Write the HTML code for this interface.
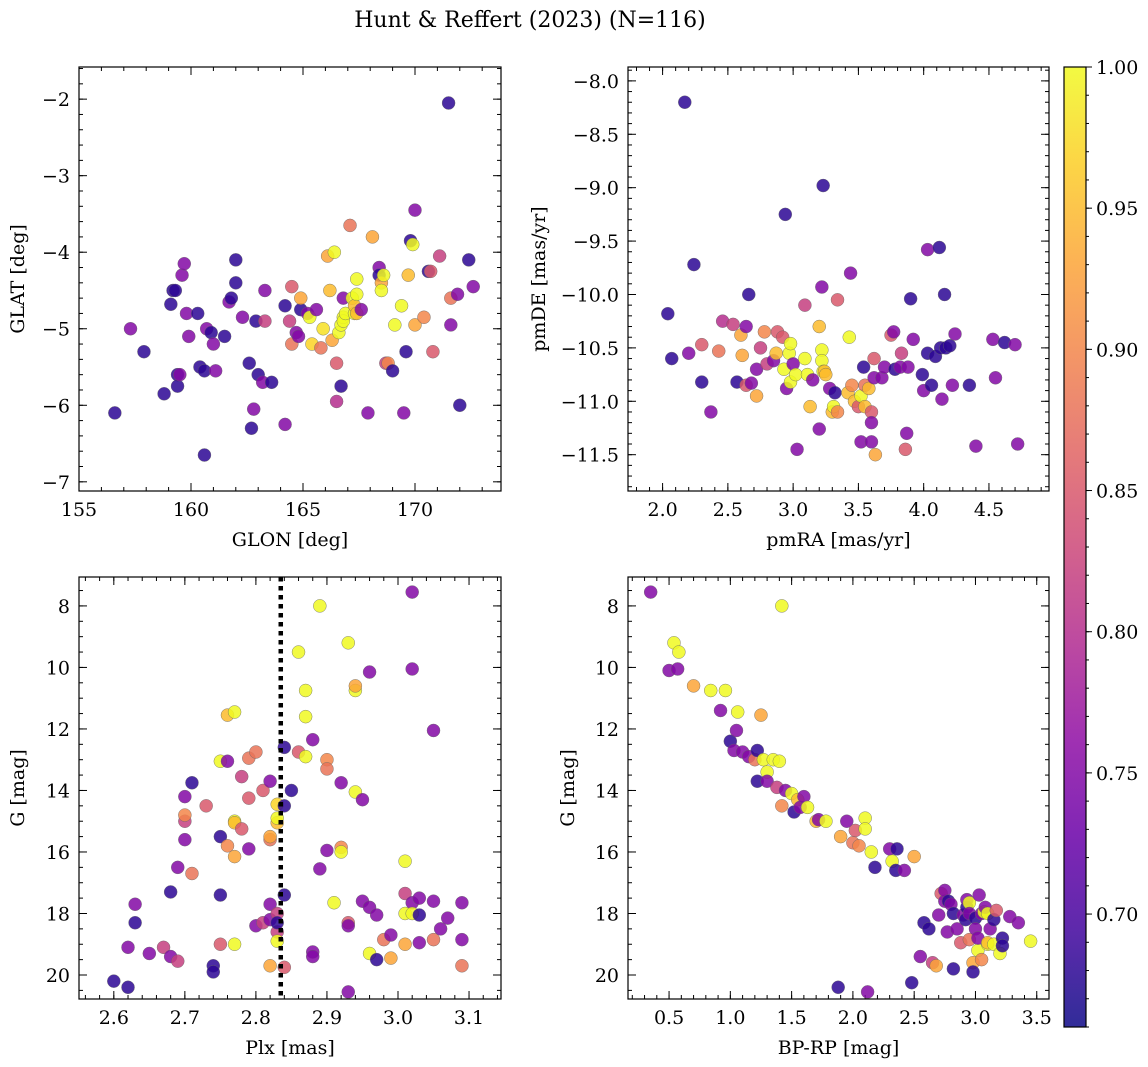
<!DOCTYPE html>
<html><head><meta charset="utf-8"><style>
html,body{margin:0;padding:0;background:#fff;}
svg{display:block;font-family:"DejaVu Serif","Liberation Serif",serif;}
</style></head><body>
<svg id="fig" width="1148" height="1067" xmlns="http://www.w3.org/2000/svg">
<defs>
<linearGradient id="plasma" x1="0" y1="1" x2="0" y2="0">
<stop offset="0" stop-color="#0d0887"/><stop offset="0.1" stop-color="#41049d"/><stop offset="0.2" stop-color="#6a00a8"/><stop offset="0.3" stop-color="#8f0da4"/><stop offset="0.4" stop-color="#b12a90"/><stop offset="0.5" stop-color="#cc4778"/><stop offset="0.6" stop-color="#e16462"/><stop offset="0.7" stop-color="#f2844b"/><stop offset="0.8" stop-color="#fca636"/><stop offset="0.9" stop-color="#fcce25"/><stop offset="1" stop-color="#f0f921"/>
</linearGradient>
</defs>
<text x="530" y="27" text-anchor="middle" font-size="22">Hunt &amp; Reffert (2023) (N=116)</text>
</svg>
<script>
const glon=[171.5,156.6,157.3,157.9,158.8,159.1,159.2,159.3,159.4,159.4,159.5,159.6,159.7,159.8,159.9,160.3,160.4,160.6,160.6,160.7,160.9,161.0,161.1,161.5,161.7,161.8,162.0,162.0,162.3,162.6,162.7,162.8,162.9,163.0,163.2,163.3,163.3,163.6,164.2,164.2,164.4,164.5,164.5,164.7,164.8,164.9,164.9,165.2,165.3,165.4,165.6,165.8,165.9,166.1,166.2,166.3,166.4,166.5,166.5,166.6,166.7,166.8,166.8,166.7,166.8,166.9,167.1,167.2,167.3,167.3,167.4,167.4,167.4,167.6,167.9,168.1,168.4,168.4,168.5,168.5,168.6,168.7,168.8,169.0,169.1,169.4,169.5,169.6,169.7,169.8,169.9,170.0,170.0,170.4,170.6,170.7,170.8,171.1,171.6,171.6,171.9,172.0,172.4,172.6];
const glat=[-2.05,-6.1,-5.0,-5.3,-5.85,-4.68,-4.5,-4.5,-5.6,-5.75,-5.6,-4.3,-4.15,-4.8,-5.1,-4.8,-5.5,-5.55,-6.65,-5.0,-5.05,-5.2,-5.55,-5.1,-4.65,-4.6,-4.4,-4.1,-4.85,-5.45,-6.3,-6.05,-4.9,-5.6,-5.7,-4.5,-4.9,-5.7,-6.25,-4.7,-4.9,-4.45,-5.2,-5.05,-5.1,-4.75,-4.6,-4.8,-4.85,-5.2,-4.75,-5.25,-5.0,-4.05,-4.5,-5.15,-4.0,-5.45,-5.95,-5.05,-4.95,-4.6,-4.85,-5.75,-4.9,-4.8,-3.65,-4.6,-4.8,-4.7,-4.35,-4.55,-4.8,-4.75,-6.1,-3.8,-4.2,-4.3,-4.4,-4.5,-4.3,-5.45,-5.45,-5.55,-4.95,-4.7,-6.1,-5.3,-4.3,-3.85,-3.9,-3.45,-4.95,-4.85,-4.25,-4.25,-5.3,-4.05,-4.6,-4.95,-4.55,-6.0,-4.1,-4.45];
const probA=[.68,.68,.75,.68,.68,.68,.68,.68,.68,.68,.75,.75,.75,.75,.75,.68,.68,.68,.68,.75,.68,.75,.75,.68,.75,.68,.68,.68,.75,.68,.68,.75,.68,.68,.75,.75,.82,.68,.75,.68,.82,.85,.88,.75,.75,.68,.93,.75,1,.97,.75,.88,.98,.93,.95,.93,1,.85,.8,1,1,.75,1,.68,1,1,.88,1,1,.95,1,1,.95,.75,.75,.93,.75,.68,.93,1,1,.82,.9,.68,1,1,.75,.68,.95,.68,1,.75,.93,.9,.68,.85,.85,.82,.88,.75,.75,.68,.68,.75];

const pmra=[2.17,2.04,2.07,2.24,2.3,2.37,2.46,2.2,2.3,2.43,2.54,2.57,2.6,2.61,2.64,2.64,2.66,2.68,2.72,2.72,2.75,2.78,2.8,2.85,2.87,2.88,2.92,2.93,2.95,2.97,2.98,2.98,3.0,3.02,3.03,2.94,3.09,3.09,3.11,3.13,3.15,3.2,3.2,3.22,3.22,3.22,3.23,3.23,3.24,3.25,3.28,3.3,3.31,3.32,3.34,3.34,3.42,3.43,3.44,3.45,3.47,3.5,3.52,3.52,3.54,3.55,3.55,3.58,3.6,3.6,3.6,3.62,3.63,3.62,3.68,3.7,3.75,3.77,3.78,3.82,3.83,3.86,3.87,3.88,3.9,3.92,3.99,4.0,4.03,4.06,4.03,4.09,4.12,4.13,4.14,4.16,4.17,4.2,4.22,4.24,4.35,4.4,4.53,4.55,4.62,4.7,4.72];
const pmde=[-8.2,-10.18,-10.6,-9.72,-10.82,-11.1,-10.25,-10.55,-10.47,-10.53,-10.28,-10.82,-10.38,-10.57,-10.3,-10.85,-10.0,-10.83,-10.95,-10.7,-10.5,-10.35,-10.65,-10.62,-10.55,-10.35,-10.4,-10.7,-10.88,-10.55,-10.82,-10.46,-10.65,-10.75,-11.45,-9.25,-10.1,-10.6,-10.75,-11.05,-10.8,-11.26,-10.3,-9.93,-10.52,-10.62,-10.72,-8.98,-10.72,-10.75,-10.88,-11.1,-11.05,-10.92,-11.1,-10.05,-10.92,-10.4,-9.8,-10.85,-11.0,-11.05,-10.95,-11.38,-10.68,-10.85,-11.05,-10.88,-11.1,-11.38,-11.2,-10.6,-11.5,-10.78,-10.78,-10.68,-10.38,-10.35,-10.7,-10.68,-10.55,-11.45,-11.3,-10.68,-10.04,-10.42,-10.75,-10.9,-10.55,-10.85,-9.58,-10.58,-9.56,-10.5,-10.98,-10.0,-10.5,-10.48,-10.85,-10.37,-10.85,-11.42,-10.42,-10.78,-10.45,-10.47,-11.4];
const probB=[.68,.68,.68,.68,.68,.75,.8,.75,.85,.88,.82,.68,.93,.93,.75,.85,.68,.75,.93,.75,.82,.9,.82,.75,.95,.85,.85,1,.75,1,1,1,.75,1,.75,.68,.82,1,1,.95,.75,.75,.95,.75,1,1,1,.68,.95,.95,.75,.95,1,.68,.9,.85,.95,1,.75,.9,.95,.85,1,.75,.68,.88,.95,.95,.85,.75,.75,.85,.93,.75,.75,.75,.85,.75,.68,.75,.82,.85,.75,.75,.68,.75,.68,.75,.68,.68,.75,.68,.68,.68,.75,.68,.68,.68,.75,.75,.68,.75,.75,.75,.68,.75,.75];

const plx=[2.6,2.62,2.62,2.63,2.63,2.65,2.67,2.68,2.68,2.69,2.69,2.7,2.7,2.7,2.71,2.71,2.7,2.73,2.74,2.74,2.75,2.75,2.75,2.75,2.76,2.76,2.77,2.76,2.77,2.77,2.77,2.77,2.78,2.78,2.79,2.79,2.79,2.8,2.8,2.81,2.81,2.82,2.82,2.82,2.82,2.82,2.82,2.83,2.83,2.83,2.83,2.83,2.83,2.83,2.84,2.84,2.84,2.84,2.85,2.86,2.86,2.87,2.87,2.87,2.88,2.88,2.88,2.89,2.89,2.9,2.9,2.9,2.91,2.92,2.92,2.92,2.93,2.93,2.93,2.93,2.94,2.94,2.94,2.95,2.95,2.96,2.96,2.96,2.97,2.97,2.98,2.99,2.99,3.01,3.01,3.01,3.01,3.02,3.02,3.02,3.02,3.03,3.03,3.03,3.05,3.05,3.05,3.06,3.07,3.09,3.09,3.09];
const gmagC=[20.2,20.4,19.1,18.3,17.7,19.3,19.1,17.3,19.4,19.55,16.5,15.0,14.8,15.6,16.7,13.75,14.2,14.5,19.7,19.9,17.4,15.5,19.0,13.05,13.05,11.55,11.45,15.8,15.0,15.05,16.15,19.0,13.55,15.25,14.25,12.95,15.9,18.4,12.75,18.3,14.0,13.7,15.6,15.5,17.7,18.2,19.7,15.05,14.45,18.0,14.9,18.6,18.3,18.9,14.5,17.4,19.75,12.6,14.0,12.75,9.5,10.75,11.6,12.9,12.35,19.25,19.4,8.0,16.55,15.95,13.0,13.3,17.65,15.85,13.75,16.0,18.3,9.2,18.4,20.55,10.75,10.6,14.05,14.3,17.6,19.3,17.8,10.15,19.5,18.05,18.85,19.45,18.7,17.35,16.3,19.0,18.0,7.55,10.05,17.65,18.0,18.05,18.95,17.5,12.05,18.85,17.6,18.5,18.15,17.65,19.7,18.85];
const probC=[.68,.68,.75,.68,.75,.75,.82,.68,.75,.82,.75,.82,.9,.75,.88,.68,.75,.85,.68,.68,.68,.68,.85,1,.75,.95,1,.9,1,.95,.93,1,.82,.85,.85,.88,.75,.75,.88,.82,.85,.75,.88,.93,.75,.75,.93,.95,.97,.82,1,.82,.68,1,.68,.68,.85,.68,.68,.85,1,1,1,1,.75,.75,.75,1,.75,.75,.9,.88,1,.9,.75,1,.85,1,.75,.75,1,.93,1,.75,.75,1,.75,.75,.68,.75,.88,.93,.75,.82,1,.93,1,.75,.75,.75,1,.68,.75,.75,.75,.88,.75,.75,.75,.75,.88,.75];
const plxMedian=[2.835];

const bprp=[0.35,0.5,0.54,0.58,0.57,0.7,0.84,0.92,0.96,1.0,1.03,1.05,1.06,1.1,1.15,1.2,1.22,1.22,1.25,1.27,1.3,1.3,1.35,1.38,1.4,1.42,1.42,1.45,1.5,1.52,1.55,1.57,1.6,1.63,1.7,1.72,1.78,1.88,1.9,1.95,2.0,2.02,2.05,2.1,2.1,2.12,2.15,2.18,2.3,2.32,2.35,2.36,2.42,2.48,2.5,2.55,2.58,2.62,2.65,2.68,2.7,2.72,2.75,2.75,2.77,2.78,2.8,2.82,2.82,2.85,2.88,2.9,2.92,2.93,2.93,2.95,2.95,2.95,2.98,2.98,3.0,3.0,3.02,3.02,3.03,3.05,3.05,3.07,3.08,3.1,3.1,3.1,3.12,3.15,3.15,3.17,3.2,3.22,3.22,3.28,3.35,3.45];
const gmagD=[7.55,10.1,9.2,9.5,10.05,10.6,10.75,11.4,10.75,12.4,12.7,12.05,11.45,12.75,12.9,13.0,13.7,12.7,11.55,13.0,13.4,13.7,13.0,13.9,13.05,8.0,14.5,14.0,14.1,14.7,14.3,14.55,14.2,14.55,15.0,14.95,15.0,20.4,15.5,15.0,15.7,15.3,15.8,14.9,15.25,20.55,16.0,16.5,15.9,16.3,16.6,15.9,16.6,20.25,16.15,19.4,18.3,18.5,19.6,19.7,18.05,17.35,17.6,17.25,18.6,17.6,17.7,18.0,19.8,18.5,18.95,18.05,18.2,17.8,17.55,18.85,17.65,18.0,19.6,19.9,18.15,18.5,19.2,18.8,17.4,18.0,19.5,17.95,17.8,18.0,19.0,18.95,18.5,19.0,18.2,17.9,19.3,18.8,19.05,18.1,18.3,18.9];
const probD=[.75,.75,1,1,.75,.93,1,.75,1,.68,.75,.75,1,.75,.75,.88,.68,.68,.93,1,1,.75,1,.82,1,1,.9,.75,1,.68,.95,.75,.75,1,.95,.75,1,.68,.93,.75,.88,.85,.9,1,1,.75,1,.68,.75,1,.68,.68,.75,.68,.93,.75,.68,.68,.82,.93,.75,.85,.75,.75,.75,.68,.75,.68,.68,.75,.85,.75,.68,.68,.75,.88,1,.75,.93,.68,.68,.75,1,.75,.75,.75,.9,1,.75,1,1,.95,.75,1,.68,.85,1,.68,.68,.75,.75,1];

const cbTicks=[0.70,0.75,0.80,0.85,0.90,0.95,1.00];
const VMIN=0.66, VMAX=1.0;

const NS="http://www.w3.org/2000/svg";
const svg=document.getElementById('fig');
const stops=[[0,13,8,135],[0.1,65,4,157],[0.2,106,0,168],[0.3,143,13,164],[0.4,177,42,144],[0.5,204,71,120],[0.6,225,100,98],[0.7,242,132,75],[0.8,252,166,54],[0.9,252,206,37],[1,240,249,33]];
function plasma(v){let t=(v-VMIN)/(VMAX-VMIN);t=Math.max(0,Math.min(1,t));
 for(let i=1;i<stops.length;i++){if(t<=stops[i][0]){const a=stops[i-1],b=stops[i];const f=(t-a[0])/(b[0]-a[0]);
 return 'rgb('+[1,2,3].map(k=>Math.round(a[k]+(b[k]-a[k])*f)).join(',')+')';}}return 'rgb(240,249,33)';}
function mk(tag,attrs,parent){const e=document.createElementNS(NS,tag);for(const k in attrs)e.setAttribute(k,attrs[k]);(parent||svg).appendChild(e);return e;}
function fmt(v,d){return (v<0?'\u2212':'')+Math.abs(v).toFixed(d);}
function ticks(min,max,step){const r=[];for(let i=Math.ceil(min/step-1e-9);i*step<=max+1e-9;i++)r.push(+(i*step).toFixed(6));return r;}
const FS=19;

function panel(p){
 const g=mk('g',{});
 
 
 const X=v=>p.x0+(v-p.xmin)/(p.xmax-p.xmin)*(p.x1-p.x0);
 const Y=v=>p.y1-(v-p.ymin)/(p.ymax-p.ymin)*(p.y1-p.y0);
 const YI=v=>p.y0+(v-p.ymin)/(p.ymax-p.ymin)*(p.y1-p.y0);
 const fy=p.inv?YI:Y;
 const tg=mk('g',{stroke:'#000','stroke-width':1},g);
 ticks(p.xmin,p.xmax,p.xminor).forEach(v=>{const x=X(v);mk('line',{x1:x,x2:x,y1:p.y1,y2:p.y1-4},tg);mk('line',{x1:x,x2:x,y1:p.y0,y2:p.y0+4},tg);});
 ticks(p.ymin,p.ymax,p.yminor).forEach(v=>{const y=fy(v);mk('line',{x1:p.x0,x2:p.x0+4,y1:y,y2:y},tg);mk('line',{x1:p.x1,x2:p.x1-4,y1:y,y2:y},tg);});
 ticks(p.xmin,p.xmax,p.xmajor).forEach(v=>{const x=X(v);mk('line',{x1:x,x2:x,y1:p.y1,y2:p.y1-8},tg);mk('line',{x1:x,x2:x,y1:p.y0,y2:p.y0+8},tg);
  const t=mk('text',{x:x,y:p.y1+25,'text-anchor':'middle','font-size':FS},g);t.textContent=fmt(v,p.xd);
  
  });
 ticks(p.ymin,p.ymax,p.ymajor).forEach(v=>{const y=fy(v);mk('line',{x1:p.x0,x2:p.x0+8,y1:y,y2:y},tg);mk('line',{x1:p.x1,x2:p.x1-8,y1:y,y2:y},tg);
  const t=mk('text',{x:p.x0-9,y:y+7,'text-anchor':'end','font-size':FS},g);t.textContent=fmt(v,p.yd);
  
  });
 const pg=mk('g',{},g);
 
 
 const n=Math.min(p.xs.length,p.ys.length,p.cs.length);
 for(let i=0;i<n;i++){
  const c=mk('circle',{cx:X(p.xs[i]),cy:fy(p.ys[i]),r:6.5,fill:plasma(p.cs[i]),'fill-opacity':0.85,stroke:'#666','stroke-width':0.4},pg);
  
  
 }
 if(p.vline){const l=mk('line',{x1:X(p.vline[0]),x2:X(p.vline[0]),y1:p.y0,y2:p.y1,stroke:'#000','stroke-width':4.5,'stroke-dasharray':'4.5,4.5'},g);
  
  }
 const fr=mk('rect',{x:p.x0,y:p.y0,width:p.x1-p.x0,height:p.y1-p.y0,fill:'none',stroke:'#000','stroke-width':1.2},g);
 
 
 const xl=mk('text',{x:(p.x0+p.x1)/2,y:p.y1+55,'text-anchor':'middle','font-size':FS},g);xl.textContent=p.xlabel;
 
 
 const cy=(p.y0+p.y1)/2;
 const yl=mk('text',{x:p.ylx,y:cy,'text-anchor':'middle','font-size':FS,transform:'rotate(-90 '+p.ylx+' '+cy+')'},g);yl.textContent=p.ylabel;
 
 
}

panel({name:'glon-glat-panel',x0:79,x1:501,y0:67,y1:491,xmin:155,xmax:173.84,ymin:-7.12,ymax:-1.58,xmajor:5,xminor:1,ymajor:1,yminor:0.2,xd:0,yd:0,xs:glon,ys:glat,cs:probA,xlabel:'GLON [deg]',ylabel:'GLAT [deg]',ylx:24});
panel({name:'proper-motion-panel',x0:628,x1:1049,y0:67,y1:491,xmin:1.735,xmax:4.96,ymin:-11.84,ymax:-7.87,xmajor:0.5,xminor:0.1,ymajor:0.5,yminor:0.1,xd:1,yd:1,xs:pmra,ys:pmde,cs:probB,xlabel:'pmRA [mas/yr]',ylabel:'pmDE [mas/yr]',ylx:545});
panel({name:'parallax-magnitude-panel',x0:79,x1:501,y0:577,y1:999,xmin:2.551,xmax:3.145,ymin:7.06,ymax:20.78,inv:true,xmajor:0.1,xminor:0.02,ymajor:2,yminor:0.5,xd:1,yd:0,xs:plx,ys:gmagC,cs:probC,vline:plxMedian,xlabel:'Plx [mas]',ylabel:'G [mag]',ylx:24});
panel({name:'color-magnitude-panel',x0:628,x1:1049,y0:577,y1:999,xmin:0.165,xmax:3.6,ymin:7.06,ymax:20.78,inv:true,xmajor:0.5,xminor:0.1,ymajor:2,yminor:0.5,xd:1,yd:0,xs:bprp,ys:gmagD,cs:probD,xlabel:'BP-RP [mag]',ylabel:'G [mag]',ylx:574});

const cb=mk('g',{});


const CB={x0:1064,x1:1086,y0:67,y1:1027};
const CY=v=>CB.y1-(v-VMIN)/(VMAX-VMIN)*(CB.y1-CB.y0);
mk('rect',{x:CB.x0,y:CB.y0,width:CB.x1-CB.x0,height:CB.y1-CB.y0,fill:'url(#plasma)','fill-opacity':0.85},cb);
ticks(VMIN,VMAX,0.01).forEach(v=>{const y=CY(v);mk('line',{x1:CB.x1,x2:CB.x1+3,y1:y,y2:y,stroke:'#000'},cb);});
cbTicks.forEach(v=>{const y=CY(v);mk('line',{x1:CB.x1,x2:CB.x1+6,y1:y,y2:y,stroke:'#000'},cb);
 const t=mk('text',{x:CB.x1+10,y:y+7,'font-size':FS},cb);t.textContent=v.toFixed(2);
 
 });
mk('rect',{x:CB.x0,y:CB.y0,width:CB.x1-CB.x0,height:CB.y1-CB.y0,fill:'none',stroke:'#000','stroke-width':1.2},cb);
</script>
</body></html>
